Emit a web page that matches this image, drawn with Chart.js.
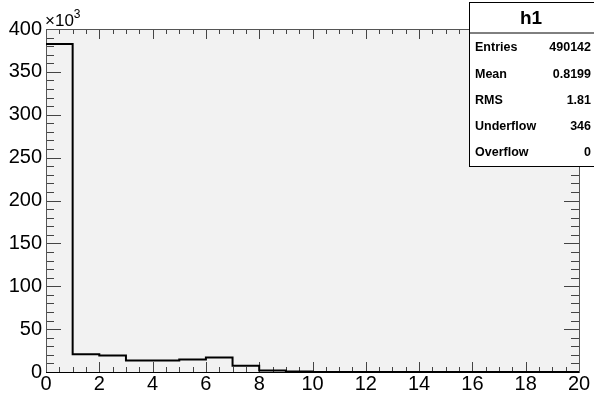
<!DOCTYPE html>
<html>
<head>
<meta charset="utf-8">
<script src="https://cdn.jsdelivr.net/npm/chart.js@4/dist/chart.umd.min.js"></script>
<style>
  body { margin: 0; background: #fff; }
  canvas { display: block; }
</style>
</head>
<body>
<canvas id="myChart" width="594" height="395"></canvas>
<script>
// histogram h1 : 20 bins from 0 to 20
const binEdges = [0, 1, 2, 3, 4, 5, 6, 7, 8, 9, 10, 11, 12, 13, 14, 15, 16, 17, 18, 19, 20];
const binCounts = [382500, 20800, 19200, 13400, 13300, 14500, 16800, 7200, 1800, 500,
                   0, 0, 0, 0, 0, 0, 0, 0, 0, 0];
const xTicks = [0, 2, 4, 6, 8, 10, 12, 14, 16, 18, 20];
const yTicks = [0, 50, 100, 150, 200, 250, 300, 350, 400];
const statLabels = ['Entries', 'Mean', 'RMS', 'Underflow', 'Overflow'];
const statValues = ['490142', '0.8199', '1.81', '346', '0'];
const histTitle = 'h1';

const FONT = '"Liberation Sans", Arial, Helvetica, sans-serif';

// one point per bin edge, the last one closes the final bin
let points = [];
for (let i = 0; i < binCounts.length; i++)
    points.push({ x: binEdges[i], y: binCounts[i] });
points.push({ x: binEdges[binEdges.length - 1], y: binCounts[binCounts.length - 1] });

// ROOT style frame: grey pad, inward ticks on all four sides, stats box
const rootFrame = {
    id: 'rootFrame',
    beforeDatasetsDraw(chart) {
        const { ctx, chartArea: a, scales: { x, y } } = chart;
        ctx.save();
        ctx.fillStyle = '#f2f2f2';
        ctx.fillRect(a.left, a.top, a.right - a.left, a.bottom - a.top);

        ctx.strokeStyle = '#444';
        ctx.lineWidth = 1;
        ctx.beginPath();
        for (let v = 0; v <= 20.001; v += 0.5) {
            const px = Math.round(x.getPixelForValue(v)) + 0.5;
            const len = (Math.abs(v / 2 - Math.round(v / 2)) < 1e-6) ? 10 : 5;
            ctx.moveTo(px, a.bottom); ctx.lineTo(px, a.bottom - len);
            ctx.moveTo(px, a.top); ctx.lineTo(px, a.top + len);
        }
        for (let v = 0; v <= 400000; v += 10000) {
            const py = Math.round(y.getPixelForValue(v)) + 0.5;
            const len = (v % 50000 === 0) ? 15 : 8;
            ctx.moveTo(a.left, py); ctx.lineTo(a.left + len, py);
            ctx.moveTo(a.right, py); ctx.lineTo(a.right - len, py);
        }
        ctx.stroke();

        ctx.strokeStyle = '#555';
        ctx.strokeRect(Math.round(a.left) + 0.5, Math.round(a.top) + 0.5,
                       Math.round(a.right - a.left), Math.round(a.bottom - a.top));
        ctx.strokeStyle = '#000';
        ctx.beginPath();
        ctx.moveTo(a.left, Math.round(a.bottom) + 0.5);
        ctx.lineTo(a.right, Math.round(a.bottom) + 0.5);
        ctx.stroke();
        ctx.restore();
    },
    afterDraw(chart) {
        const { ctx, chartArea: a } = chart;
        ctx.save();
        // x10^3 exponent
        ctx.fillStyle = '#000';
        ctx.textBaseline = 'alphabetic';
        ctx.textAlign = 'left';
        ctx.font = '17px ' + FONT;
        ctx.fillText('\u00d710', a.left - 1, 26);
        const w = ctx.measureText('\u00d710').width;
        ctx.font = '12px ' + FONT;
        ctx.fillText('3', a.left - 1 + w, 18);

        // stats box
        const bx = 469.5, by = 2.5, bw = 130, bh = 164;
        const titleH = 30.5, rowH = 26.25;
        ctx.fillStyle = '#fff';
        ctx.fillRect(bx, by, bw, bh);
        ctx.strokeStyle = '#000';
        ctx.lineWidth = 1;
        ctx.strokeRect(bx, by, bw, bh);
        ctx.beginPath();
        ctx.moveTo(bx, by + titleH); ctx.lineTo(bx + bw, by + titleH);
        ctx.stroke();

        ctx.fillStyle = '#000';
        ctx.textBaseline = 'middle';
        ctx.textAlign = 'center';
        ctx.font = 'bold 19px ' + FONT;
        ctx.fillText(histTitle, 531, by + titleH / 2 + 1);
        ctx.font = 'bold 12.5px ' + FONT;
        for (let i = 0; i < statLabels.length; i++) {
            const cy = 48 + rowH * i;
            ctx.textAlign = 'left';
            ctx.fillText(statLabels[i], 475, cy);
            ctx.textAlign = 'right';
            ctx.fillText(statValues[i], 591, cy);
        }
        ctx.restore();
    }
};

const ctx = document.getElementById('myChart');

new Chart(ctx, {
    type: 'line',
    data: {
        datasets: [{
            label: histTitle,
            data: points,
            stepped: 'before',
            borderColor: '#000',
            borderWidth: 2,
            pointRadius: 0,
            fill: false,
            clip: false
        }]
    },
    options: {
        responsive: false,
        animation: false,
        devicePixelRatio: 1,
        layout: { padding: { top: 29, right: 15, left: 0, bottom: 0 } },
        plugins: {
            legend: { display: false },
            tooltip: { enabled: false }
        },
        scales: {
            x: {
                type: 'linear',
                min: 0,
                max: 20,
                afterBuildTicks: (s) => { s.ticks = xTicks.map(v => ({ value: v })); },
                afterFit: (s) => { s.height = 23; },
                grid: { display: false, drawTicks: false },
                border: { display: false },
                ticks: {
                    padding: 0,
                    maxRotation: 0,
                    autoSkip: false,
                    color: '#000',
                    font: { family: FONT, size: 20 }
                }
            },
            y: {
                min: 0,
                max: 400000,
                afterBuildTicks: (s) => { s.ticks = yTicks.map(v => ({ value: v * 1000 })); },
                afterFit: (s) => { s.width = 46; },
                grid: { display: false, drawTicks: false },
                border: { display: false },
                ticks: {
                    padding: 4,
                    autoSkip: false,
                    color: '#000',
                    font: { family: FONT, size: 20 },
                    callback: (v) => String(v / 1000)
                }
            }
        }
    },
    plugins: [rootFrame]
});
</script>
</body>
</html>
